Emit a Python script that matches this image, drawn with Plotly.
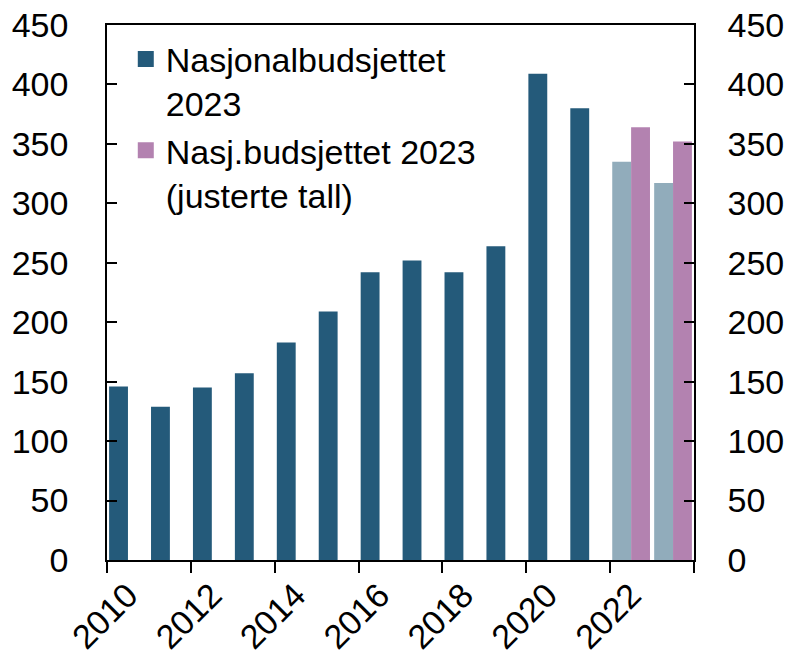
import plotly.graph_objects as go

years = list(range(2010, 2024))
nasjonalbudsjettet = [146, 129, 145, 157, 183, 209, 242, 252, 242, 264, 409, 380, 335, 317]
justerte = [None] * 12 + [364, 352]
label_years = [2010, 2012, 2014, 2016, 2018, 2020, 2022]
series_names = ['Nasjonalbudsjettet<br>2023', 'Nasj.budsjettet 2023<br>(justerte tall)']

DARK = '#245a7a'
LIGHT = '#91acbb'
PURPLE = '#b382b0'
FONT = 'Liberation Sans, Arial, sans-serif'

bar_colors = [LIGHT if y >= 2022 else DARK for y in years]

fig = go.Figure()
fig.add_trace(go.Bar(x=years, y=nasjonalbudsjettet, name=series_names[0], showlegend=False,
                     marker=dict(color=bar_colors, line=dict(width=0))))
fig.add_trace(go.Bar(x=years, y=justerte, name=series_names[1], showlegend=False,
                     marker=dict(color=PURPLE, line=dict(width=0))))
# legend entries with bigger square symbols than the bar default
for name, col in zip(series_names, [DARK, PURPLE]):
    fig.add_trace(go.Scatter(x=[None], y=[None], mode='markers', name=name,
                             marker=dict(symbol='square', size=18, color=col)))
# invisible trace just to carry the right-hand axis
fig.add_trace(go.Scatter(x=[years[0]], y=[0], yaxis='y2', mode='markers',
                         marker=dict(opacity=0), showlegend=False, hoverinfo='skip'))

boundaries = [y - 0.5 for y in years[::2]] + [years[-1] + 0.5]

fig.update_layout(
    width=794, height=665,
    margin=dict(l=107, r=100, t=25, b=105),
    paper_bgcolor='white', plot_bgcolor='white',
    font=dict(family=FONT, size=34, color='black'),
    barmode='group', bargap=0.1, bargroupgap=0,
    showlegend=True,
    legend=dict(x=0.032, y=0.99, xanchor='left', yanchor='top', itemsizing='trace',
                valign='top', bgcolor='rgba(0,0,0,0)', font=dict(size=34),
                tracegroupgap=2, itemwidth=30),
    xaxis=dict(range=[2009.5, 2023.5], tickvals=label_years,
               ticktext=[str(y) for y in label_years], tickangle=-45,
               ticks='', showline=True, linecolor='black', linewidth=1.5,
               mirror=True, showgrid=False, zeroline=False, automargin=False,
               minor=dict(tickvals=boundaries, ticks='outside', ticklen=11,
                          tickwidth=1.5, tickcolor='black', showgrid=False)),
    yaxis=dict(range=[0, 450], dtick=50, ticks='inside', ticklen=10, tickwidth=1.5,
               tickcolor='black', showline=True, linecolor='black', linewidth=1.5,
               showgrid=False, zeroline=False, ticklabelstandoff=30, automargin=False),
    yaxis2=dict(range=[0, 450], dtick=50, overlaying='y', side='right', ticks='inside',
                ticklen=10, tickwidth=1.5, tickcolor='black', showline=True,
                linecolor='black', linewidth=1.5, showgrid=False, zeroline=False,
                ticklabelstandoff=25, automargin=False),
)

# drop the default 8px page margin so the figure fills the window
fig.write_html("out.html", config={'displayModeBar': False},
               post_script="document.body.style.margin = '0';")
